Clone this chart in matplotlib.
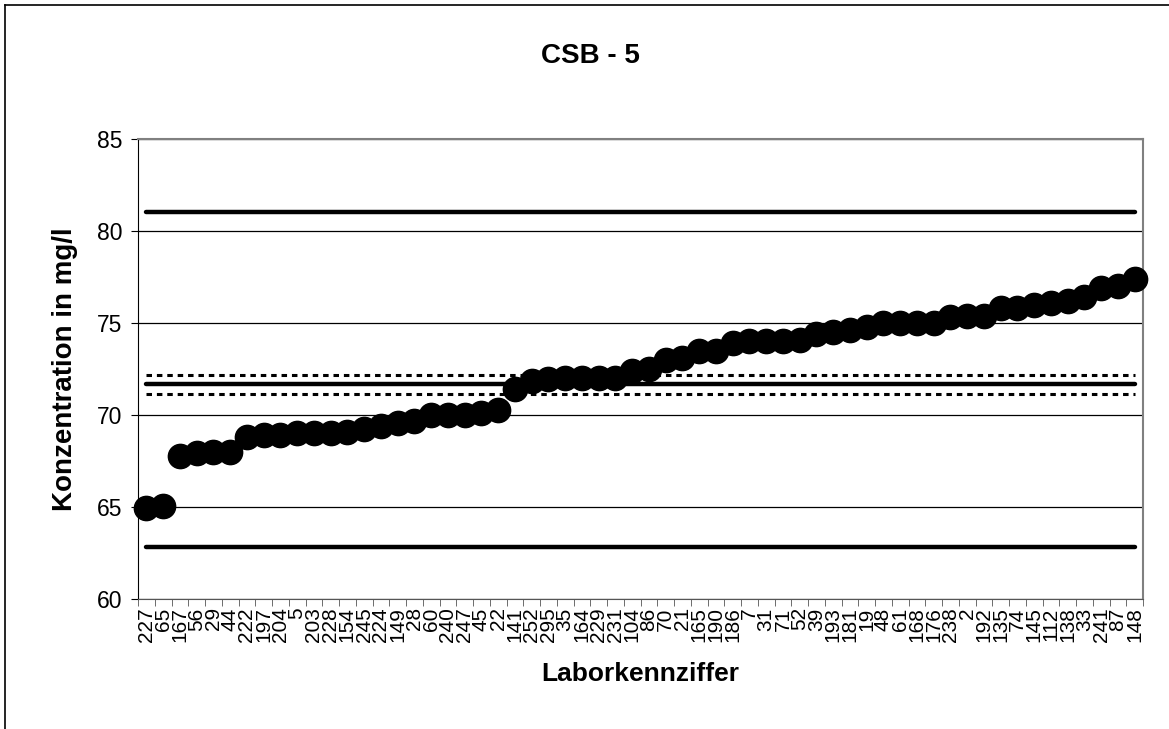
import matplotlib
matplotlib.use("Agg")
import matplotlib.pyplot as plt
from matplotlib.lines import Line2D

plt.rcParams['font.family'] = ['Liberation Sans', 'DejaVu Sans']

labs = ["227", "65", "167", "56", "29", "44", "222", "197", "204", "5",
        "203", "228", "154", "245", "224", "149", "28", "60", "240", "247",
        "45", "22", "141", "252", "295", "35", "164", "229", "231", "104",
        "86", "70", "21", "165", "190", "186", "7", "31", "71", "52",
        "39", "193", "181", "19", "48", "61", "168", "176", "238", "2",
        "192", "135", "74", "145", "112", "138", "33", "241", "87", "148"]
values = [64.95, 65.05, 67.75, 67.95, 68.0, 68.0, 68.8, 68.9, 68.9, 69.0,
          69.0, 69.0, 69.1, 69.25, 69.4, 69.55, 69.7, 70.0, 70.0, 70.0,
          70.1, 70.25, 71.4, 71.85, 71.95, 72.0, 72.0, 72.0, 72.0, 72.4,
          72.5, 73.0, 73.1, 73.5, 73.5, 73.9, 74.0, 74.0, 74.0, 74.1,
          74.4, 74.5, 74.6, 74.8, 75.0, 75.0, 75.0, 75.0, 75.3, 75.4,
          75.4, 75.8, 75.8, 76.0, 76.1, 76.2, 76.4, 76.9, 77.0, 77.4]
upper_limit = 81.03
lower_limit = 62.82
mean_value = 71.67
ci_upper = 72.16
ci_lower = 71.13

W, H = 1169, 729
fig = plt.figure(figsize=(W / 100, H / 100), dpi=100)
L, R, T, B = 138, 1143, 139, 599
ax = fig.add_axes([L / W, 1 - B / H, (R - L) / W, (B - T) / H])

n = len(values)
x = list(range(n))
ax.set_xlim(-0.5, n - 0.5)
ax.set_ylim(60, 85)
ax.set_yticks([60, 65, 70, 75, 80, 85])
ax.yaxis.grid(True, color='black', lw=0.9)
ax.set_axisbelow(True)

xs = [x[0], x[-1]]
ax.plot(xs, [upper_limit] * 2, color='black', lw=3.2, solid_capstyle='round')
ax.plot(xs, [lower_limit] * 2, color='black', lw=3.2, solid_capstyle='round')
ax.plot(xs, [mean_value] * 2, color='black', lw=3.2, solid_capstyle='round')
ax.plot(xs, [ci_upper] * 2, color='black', lw=2.2, linestyle=(0, (1.8, 1.6)))
ax.plot(xs, [ci_lower] * 2, color='black', lw=2.2, linestyle=(0, (1.8, 1.6)))

ax.plot(x, values, 'o', color='black', markersize=17.5, zorder=5, clip_on=False)

ax.set_xticks(x)
ax.set_xticklabels(labs, rotation=90, fontsize=15)
ax.set_xticks([i - 0.5 for i in range(n + 1)], minor=True)
ax.tick_params(axis='x', which='major', length=0, pad=6)
ax.tick_params(axis='x', which='minor', length=5, color='#555555', direction='out')
ax.tick_params(axis='y', length=5, direction='out', labelsize=16.5, pad=6)

for s in ['top', 'right']:
    ax.spines[s].set_color('#808080')
    ax.spines[s].set_linewidth(1.5)
ax.spines['left'].set_color('black')
ax.spines['bottom'].set_color('#555555')

ax.set_ylabel('Konzentration in mg/l', fontsize=20, fontweight='bold', labelpad=14)
ax.set_xlabel('Laborkennziffer', fontsize=19, fontweight='bold', labelpad=14)
fig.text(590 / W, 1 - 56 / H, 'CSB - 5', fontsize=20, fontweight='bold',
         ha='center', va='center')

fig.add_artist(Line2D([4.5 / W, 4.5 / W], [0, 1 - 5 / H], color='black', lw=1.2,
                      transform=fig.transFigure))
fig.add_artist(Line2D([4.5 / W, 1], [1 - 5 / H, 1 - 5 / H], color='black', lw=1.2,
                      transform=fig.transFigure))

fig.savefig('out.png', dpi=100)
